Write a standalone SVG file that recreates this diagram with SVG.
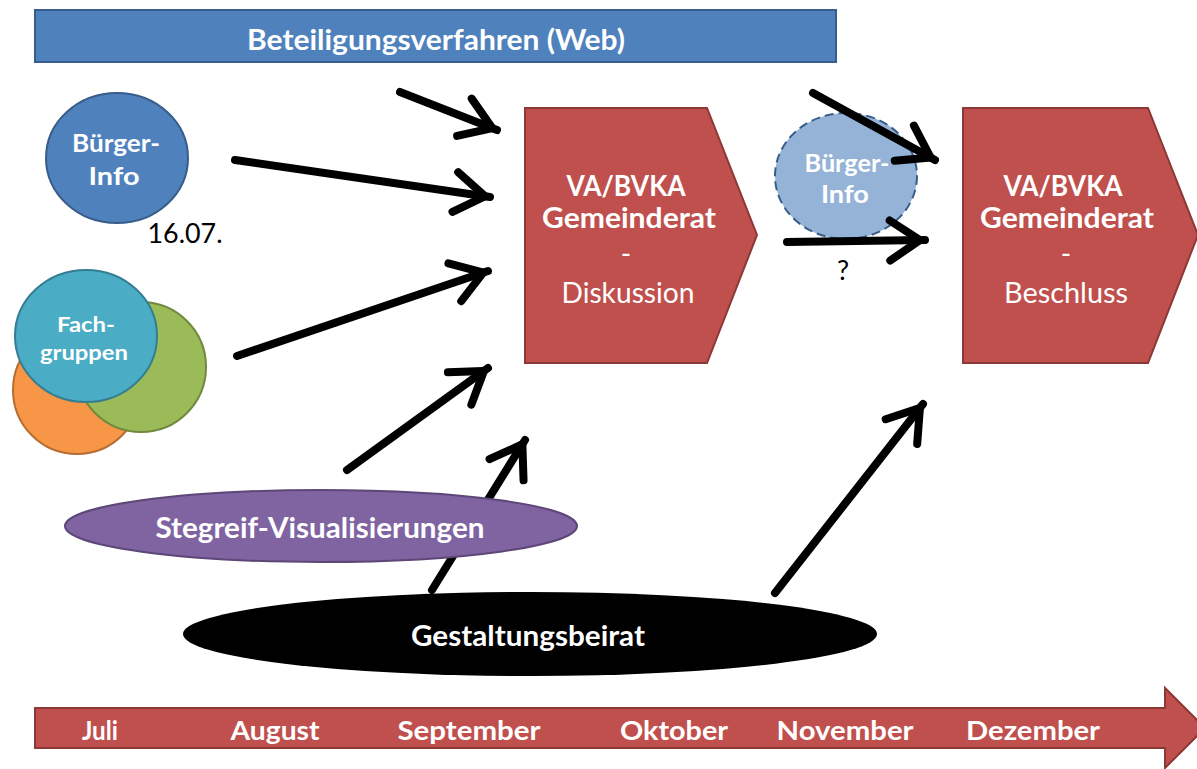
<svg xmlns="http://www.w3.org/2000/svg" width="1197" height="769" viewBox="0 0 1197 769">
<style>
  text { font-family: Lato, "Open Sans", "Liberation Sans", sans-serif; text-anchor: middle; }
  .w { fill: #ffffff; font-weight: bold; }
  .wr { fill: #ffffff; font-weight: normal; }
  .k { fill: #000000; font-weight: normal; }
  .red { fill: #c0504d; stroke: #8c3836; stroke-width: 2; }
  .conn { stroke: #000; stroke-width: 8; stroke-linecap: round; fill: none; marker-end: url(#chev); }
  .s19 { font-size: 21px; }
  .s24 { font-size: 24px; }
  .s26 { font-size: 27px; }
  .s28 { font-size: 28px; }
</style>
<defs>
  <marker id="chev" markerUnits="userSpaceOnUse" viewBox="-45 -30 60 60" markerWidth="60" markerHeight="60" refX="0" refY="0" orient="auto" overflow="visible">
    <path d="M-35,-20 L-5,0 L-35,20" fill="none" stroke="#000" stroke-width="8" stroke-linecap="round" stroke-linejoin="miter"/>
  </marker>
</defs>
<rect width="1197" height="769" fill="#ffffff"/>

<g id="beteiligung">
  <rect x="35" y="10" width="801" height="52" fill="#4f81bd" stroke="#385d8a" stroke-width="2"/>
  <text class="w s28" x="436" y="50" textLength="378" lengthAdjust="spacingAndGlyphs">Beteiligungsverfahren (Web)</text>
</g>

<g id="buerger-info-1">
  <ellipse cx="117" cy="158" rx="71" ry="65" fill="#4f81bd" stroke="#385d8a" stroke-width="2"/>
  <text class="w s24" x="116" y="152" textLength="88" lengthAdjust="spacingAndGlyphs">Bürger-</text>
  <text class="w s24" x="114" y="185" textLength="51" lengthAdjust="spacingAndGlyphs">Info</text>
</g>

<g id="datum">
  <text class="k s26" x="185" y="243" textLength="75" lengthAdjust="spacingAndGlyphs">16.07.</text>
</g>

<g id="fachgruppen">
  <ellipse cx="77" cy="390" rx="64" ry="64" fill="#f79646" stroke="#b66d31" stroke-width="2"/>
  <ellipse cx="141" cy="367" rx="65" ry="65" fill="#9bbb59" stroke="#71893f" stroke-width="2"/>
  <ellipse cx="86" cy="336" rx="71" ry="66" fill="#4bacc6" stroke="#357d91" stroke-width="2"/>
  <text class="w s19" x="86" y="332" textLength="58" lengthAdjust="spacingAndGlyphs">Fach-</text>
  <text class="w s19" x="84" y="360" textLength="88" lengthAdjust="spacingAndGlyphs">gruppen</text>
</g>

<g id="diskussion">
  <polygon class="red" points="525,108 707,108 757,235 707,363 525,363"/>
  <text class="w s28" x="626" y="196" textLength="119" lengthAdjust="spacingAndGlyphs">VA/BVKA</text>
  <text class="w s28" x="629" y="228" textLength="174" lengthAdjust="spacingAndGlyphs">Gemeinderat</text>
  <text class="wr s28" x="626" y="264">-</text>
  <text class="wr s28" x="628" y="303" textLength="133" lengthAdjust="spacingAndGlyphs">Diskussion</text>
</g>

<g id="beschluss">
  <polygon class="red" points="963,108 1148,108 1198,235 1148,363 963,363"/>
  <text class="w s28" x="1063" y="196" textLength="119" lengthAdjust="spacingAndGlyphs">VA/BVKA</text>
  <text class="w s28" x="1067" y="228" textLength="174" lengthAdjust="spacingAndGlyphs">Gemeinderat</text>
  <text class="wr s28" x="1066" y="264">-</text>
  <text class="wr s28" x="1066" y="303" textLength="124" lengthAdjust="spacingAndGlyphs">Beschluss</text>
</g>

<g id="buerger-info-2">
  <ellipse cx="846" cy="176" rx="71" ry="63" fill="#95b3d7" stroke="#385d8a" stroke-width="2" stroke-dasharray="9,5"/>
  <text class="w s24" x="847" y="172" textLength="85" lengthAdjust="spacingAndGlyphs">Bürger-</text>
  <text class="w s24" x="845" y="203" textLength="48" lengthAdjust="spacingAndGlyphs">Info</text>
</g>

<g id="connectors">
  <line class="conn" x1="400" y1="92" x2="497" y2="130"/>
  <line class="conn" x1="235" y1="160" x2="490" y2="197"/>
  <line class="conn" x1="237" y1="356" x2="488" y2="271"/>
  <line class="conn" x1="347" y1="470" x2="488" y2="368"/>
  <line class="conn" x1="432" y1="590" x2="525" y2="440"/>
  <line class="conn" x1="775" y1="593" x2="923" y2="404"/>
  <line class="conn" x1="813" y1="93" x2="935" y2="160"/>
  <line class="conn" x1="787" y1="242" x2="925" y2="240"/>
</g>

<g id="fragezeichen">
  <text class="k s26" x="843" y="280">?</text>
</g>

<g id="stegreif">
  <ellipse cx="321" cy="526" rx="256" ry="36" fill="#8064a2" stroke="#5c4776" stroke-width="2"/>
  <text class="w s28" x="320" y="538" textLength="329" lengthAdjust="spacingAndGlyphs">Stegreif-Visualisierungen</text>
</g>

<g id="gestaltungsbeirat">
  <ellipse cx="530" cy="634" rx="347" ry="42" fill="#000000"/>
  <text class="w s28" x="528" y="646" textLength="234" lengthAdjust="spacingAndGlyphs">Gestaltungsbeirat</text>
</g>

<g id="zeitachse">
  <polygon class="red" points="35,708 1165,708 1165,688 1205,728 1165,768 1165,748 35,748"/>
  <text class="w s26" x="100" y="740" textLength="36" lengthAdjust="spacingAndGlyphs">Juli</text>
  <text class="w s26" x="275" y="740" textLength="89" lengthAdjust="spacingAndGlyphs">August</text>
  <text class="w s26" x="469" y="740" textLength="143" lengthAdjust="spacingAndGlyphs">September</text>
  <text class="w s26" x="674" y="740" textLength="108" lengthAdjust="spacingAndGlyphs">Oktober</text>
  <text class="w s26" x="845" y="740" textLength="137" lengthAdjust="spacingAndGlyphs">November</text>
  <text class="w s26" x="1033" y="740" textLength="134" lengthAdjust="spacingAndGlyphs">Dezember</text>
</g>
</svg>
